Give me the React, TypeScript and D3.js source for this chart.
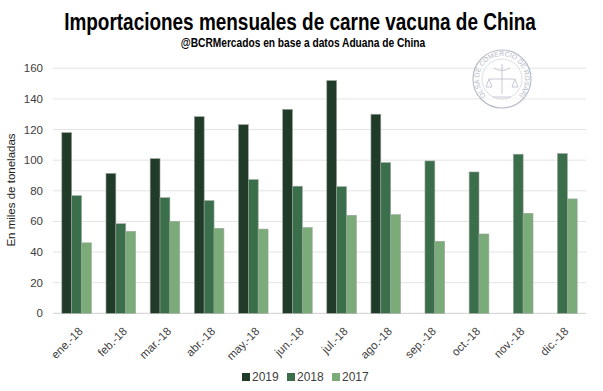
import React, { useEffect, useRef } from "react";
import * as d3 from "d3";

const months = ["ene.-18", "feb.-18", "mar.-18", "abr.-18", "may.-18", "jun.-18", "jul.-18", "ago.-18", "sep.-18", "oct.-18", "nov.-18", "dic.-18"];
const seriesNames = ["2019", "2018", "2017"];
const values2019 = [118, 91.4, 101, 128.4, 123.2, 133.2, 152, 130, null, null, null, null];
const values2018 = [76.8, 58.5, 75.5, 73.6, 87.3, 83, 82.7, 98.4, 99.5, 92.3, 103.9, 104.3];
const values2017 = [46, 53.5, 60, 55.5, 55, 56, 64, 64.4, 47, 51.8, 65.3, 74.7];
const yTicks = [0, 20, 40, 60, 80, 100, 120, 140, 160];
const colors = ["#213b29", "#3b6e4a", "#7aab78"];

const W = 603;
const H = 391;
const font = "'Liberation Sans', Arial, sans-serif";

const App = () => {
  const ref = useRef(null);

  useEffect(() => {
    document.body.style.margin = "0";
    const root = d3.select(ref.current);
    root.selectAll("*").remove();

    const svg = root
      .append("svg")
      .attr("width", W)
      .attr("height", H)
      .style("display", "block")
      .style("background", "#fff");

    const x = d3.scaleBand().domain(months).range([53, 586]).paddingInner(0.33).paddingOuter(0.2);
    const x1 = d3.scaleBand().domain(seriesNames).range([0, x.bandwidth()]);
    const y = d3.scaleLinear().domain([0, 160]).range([313.3, 68.3]);

    // grilla
    svg
      .append("g")
      .selectAll("line")
      .data(yTicks)
      .join("line")
      .attr("x1", 53)
      .attr("x2", 586)
      .attr("y1", (d) => y(d))
      .attr("y2", (d) => y(d))
      .attr("stroke", (d) => (d === 0 ? "#d0d0d0" : "#e4e4e4"))
      .attr("stroke-width", 1);

    // sello de la bolsa (marca de agua)
    const seal = svg.append("g").attr("transform", "translate(502,79)").attr("opacity", 0.6);
    seal.append("circle").attr("r", 29).attr("fill", "#fff").attr("stroke", "#8a93a8").attr("stroke-width", 1.2);
    seal.append("circle").attr("r", 20).attr("fill", "none").attr("stroke", "#a0a8ba").attr("stroke-width", 0.6);
    seal.append("path").attr("id", "sealpath").attr("d", "M -16.3 16.3 A 23 23 0 1 1 16.3 16.3").attr("fill", "none");
    seal
      .append("text")
      .attr("font-family", font)
      .attr("font-size", 6.8)
      .attr("fill", "#7f88a0")
      .append("textPath")
      .attr("href", "#sealpath")
      .attr("startOffset", "50%")
      .attr("text-anchor", "middle")
      .text("BOLSA DE COMERCIO DE ROSARIO");
    seal
      .append("path")
      .attr("d", "M -13 0 L 13 0 M 0 -15 L 0 15 M -13 0 L -16 8 L -10 8 Z M 13 0 L 10 8 L 16 8 Z M -8 -11 Q 0 -6 8 -11 M -9 18 L 9 18")
      .attr("fill", "none")
      .attr("stroke", "#8a93a8")
      .attr("stroke-width", 0.8);

    svg
      .append("g")
      .selectAll("text")
      .data(yTicks)
      .join("text")
      .attr("x", 43)
      .attr("y", (d) => y(d))
      .attr("dy", "0.35em")
      .attr("text-anchor", "end")
      .attr("font-family", font)
      .attr("font-size", 11.5)
      .attr("fill", "#404040")
      .text((d) => d);

    // barras
    const series = [values2019, values2018, values2017];
    const groups = svg
      .append("g")
      .selectAll("g")
      .data(months)
      .join("g")
      .attr("transform", (d) => `translate(${x(d)},0)`);

    groups
      .selectAll("rect")
      .data((_, i) => seriesNames.map((s, k) => ({ s, k, v: series[k][i] })).filter((d) => d.v != null))
      .join("rect")
      .attr("x", (d) => x1(d.s))
      .attr("width", x1.bandwidth())
      .attr("y", (d) => y(d.v))
      .attr("height", (d) => y(0) - y(d.v))
      .attr("fill", (d) => colors[d.k])
      .attr("stroke", "#9aa59c")
      .attr("stroke-width", 0.6);

    // etiquetas eje x
    svg
      .append("g")
      .selectAll("text")
      .data(months)
      .join("text")
      .attr("transform", (d) => `translate(${x(d) + x.bandwidth() / 2 + 7},${332}) rotate(-45)`)
      .attr("text-anchor", "end")
      .attr("font-family", font)
      .attr("font-size", 11.5)
      .attr("fill", "#404040")
      .text((d) => d);

    // titulo eje y
    svg
      .append("text")
      .attr("transform", "translate(15,190) rotate(-90)")
      .attr("text-anchor", "middle")
      .attr("font-family", font)
      .attr("font-size", 11.5)
      .attr("fill", "#222")
      .text("En miles de toneladas");

    // titulos (letra angosta simulada con escala horizontal)
    svg
      .append("text")
      .attr("transform", "translate(300,30) scale(0.79,1)")
      .attr("text-anchor", "middle")
      .attr("font-family", font)
      .attr("font-weight", "bold")
      .attr("font-size", 24)
      .attr("fill", "#000")
      .text("Importaciones mensuales de carne vacuna de China");

    svg
      .append("text")
      .attr("transform", "translate(303,47) scale(0.85,1)")
      .attr("text-anchor", "middle")
      .attr("font-family", font)
      .attr("font-weight", "bold")
      .attr("font-size", 12)
      .attr("fill", "#000")
      .text("@BCRMercados  en base a datos Aduana de China");

    // leyenda
    const legend = svg.append("g").attr("transform", "translate(242,377)");
    seriesNames.forEach((s, k) => {
      const g = legend.append("g").attr("transform", `translate(${k * 45},0)`);
      g.append("rect").attr("x", 0).attr("y", -4).attr("width", 8).attr("height", 8).attr("fill", colors[k]);
      g.append("text")
        .attr("x", 10)
        .attr("y", 0)
        .attr("dy", "0.35em")
        .attr("font-family", font)
        .attr("font-size", 12)
        .attr("fill", "#404040")
        .text(s);
    });
  }, []);

  return <div ref={ref} />;
};

export default App;
